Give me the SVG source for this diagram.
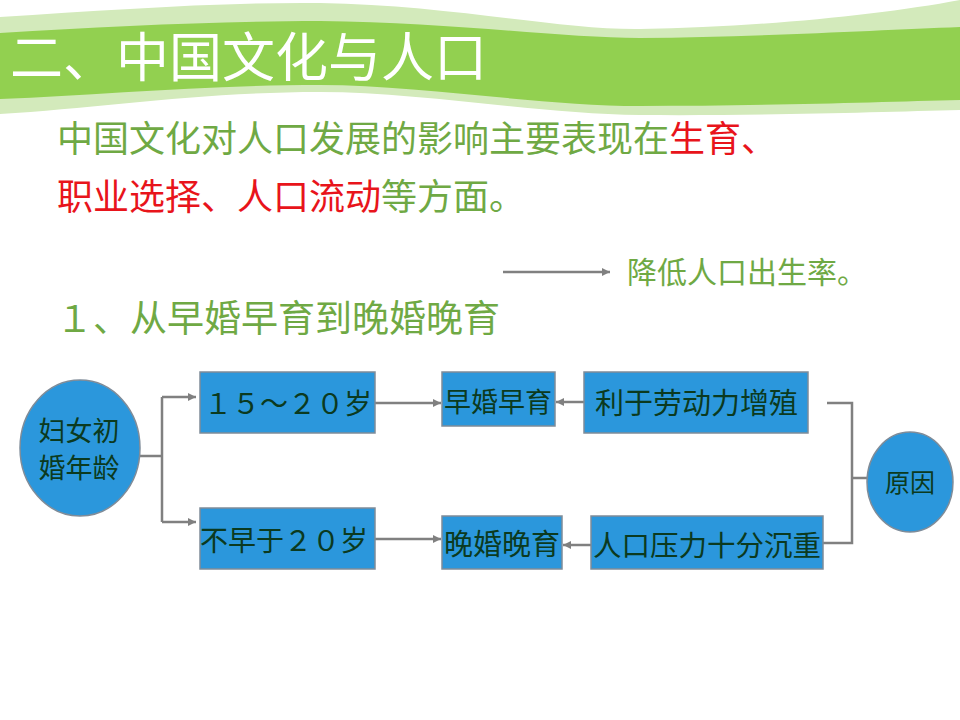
<svg xmlns="http://www.w3.org/2000/svg" width="960" height="720" viewBox="0 0 960 720">
<defs>
<style>
.cjk{font-family:"Noto Sans CJK SC","Noto Sans",sans-serif;}
.title{font-size:53px;fill:#ffffff;}
.g{fill:#6fa944;}
.r{fill:#e8141b;}
.box{fill:#2b97dc;stroke:#7f8c99;stroke-width:1.5;}
.lbl{fill:#0b3a20;}
.con{fill:none;stroke:#808080;stroke-width:2.5;}
</style>
<marker id="ah" markerUnits="userSpaceOnUse" markerWidth="9" markerHeight="9" refX="8" refY="4.5" orient="auto">
<path d="M0,0.5 L8,4.5 L0,8.5 Z" fill="#808080"/>
</marker>
</defs>
<rect width="960" height="720" fill="#ffffff"/>
<g id="banner">
<path d="M0,17 C110,10 220,2 320,3 C450,5 560,30 640,29 C760,27 880,15 960,0 L960,110 C880,112 760,116 640,115 C540,114 420,92 320,92 C200,92 100,108 0,114 Z" fill="#d3eabb"/>
<path d="M0,33 C110,26 220,21 320,21 C450,22 560,38 640,38 C760,37 880,30 960,27 L960,100 C880,102 760,106 640,106 C540,106 420,85 320,85 C200,85 100,95 0,99 Z" fill="#92d050"/>
<text class="cjk title" x="10" y="77">二、中国文化与人口</text>
</g>
<g id="intro" class="cjk" font-size="36">
<text x="57" y="152"><tspan class="g">中国文化对人口发展的影响主要表现在</tspan><tspan class="r">生育、</tspan></text>
<text x="57" y="210"><tspan class="r">职业选择、人口流动</tspan><tspan class="g">等方面。</tspan></text>
<text class="g" x="627" y="283" font-size="30">降低人口出生率。</text>
<text class="g" x="56" y="332" font-size="37">１、从早婚早育到晚婚晚育</text>
</g>
<g id="connectors">
<path class="con" d="M503,272 H610" marker-end="url(#ah)"/>
<path class="con" d="M140,456 H162 M162,397 V522"/>
<path class="con" d="M162,397 H196" marker-end="url(#ah)"/>
<path class="con" d="M162,522 H196" marker-end="url(#ah)"/>
<path class="con" d="M375,403 H441" marker-end="url(#ah)"/>
<path class="con" d="M375,539 H441" marker-end="url(#ah)"/>
<path class="con" d="M584,402 H556" marker-end="url(#ah)"/>
<path class="con" d="M591,545 H563" marker-end="url(#ah)"/>
<path class="con" d="M867,478 H852 M827,403 H852 V543 H823"/>
</g>
<g id="n-women" class="cjk">
<ellipse class="box" cx="80" cy="448" rx="60" ry="68"/>
<text class="lbl" x="79" y="441" font-size="27" text-anchor="middle">妇女初</text>
<text class="lbl" x="79" y="478" font-size="27" text-anchor="middle">婚年龄</text>
</g>
<g id="n-1520" class="cjk">
<rect class="box" x="200" y="372" width="175" height="61"/>
<text class="lbl" x="204" y="414" font-size="28">１５～２０岁</text>
</g>
<g id="n-not20" class="cjk">
<rect class="box" x="200" y="508" width="175" height="61"/>
<text class="lbl" x="200" y="551" font-size="28">不早于２０岁</text>
</g>
<g id="n-early" class="cjk">
<rect class="box" x="442" y="372" width="113" height="54"/>
<text class="lbl" x="444" y="412" font-size="27">早婚早育</text>
</g>
<g id="n-late" class="cjk">
<rect class="box" x="442" y="516" width="120" height="53"/>
<text class="lbl" x="444" y="555" font-size="29">晚婚晚育</text>
</g>
<g id="n-labor" class="cjk">
<rect class="box" x="584" y="372" width="224" height="61"/>
<text class="lbl" x="595" y="414" font-size="29">利于劳动力增殖</text>
</g>
<g id="n-pressure" class="cjk">
<rect class="box" x="591" y="516" width="232" height="53"/>
<text class="lbl" x="593" y="556" font-size="28.5">人口压力十分沉重</text>
</g>
<g id="n-reason" class="cjk">
<ellipse class="box" cx="910" cy="482" rx="43" ry="50"/>
<text class="lbl" x="910" y="492" font-size="25" text-anchor="middle">原因</text>
</g>
</svg>
